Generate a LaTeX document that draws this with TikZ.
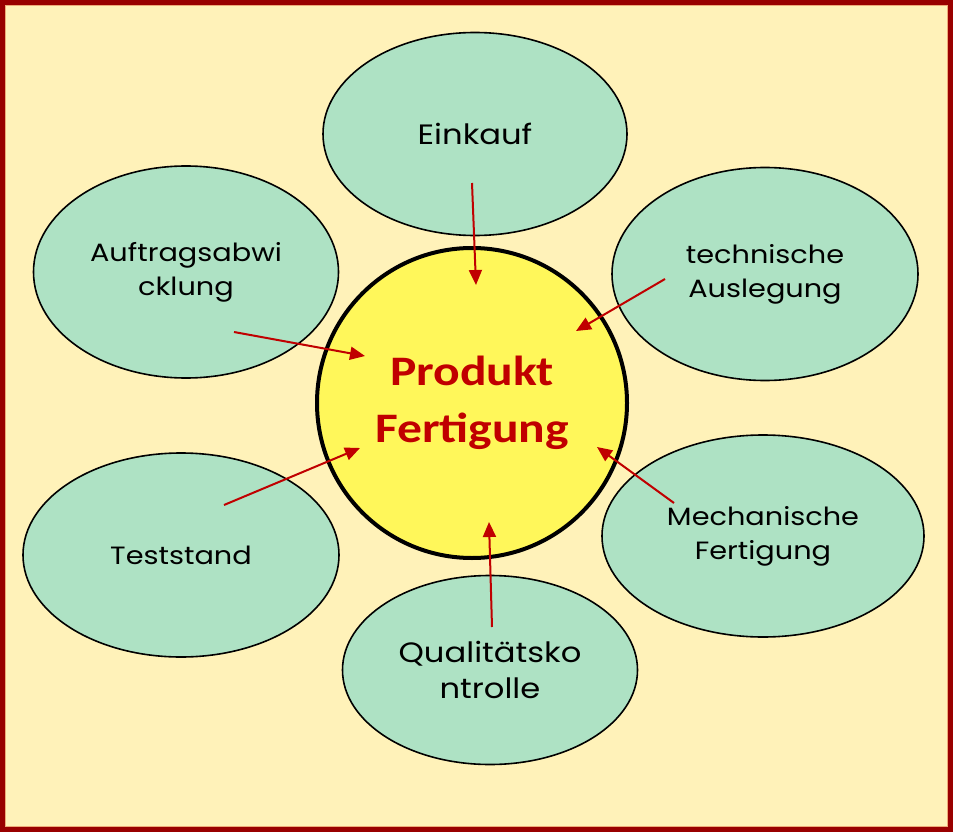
\documentclass[tikz,border=0pt]{standalone}
\usepackage{fontspec}
\setmainfont{Poppins}
\newfontfamily\petalfont[FakeStretch=1.15]{Poppins}
\newfontfamily\hubfont[FakeStretch=1.18]{Carlito}
\usetikzlibrary{shapes.geometric,arrows.meta}

\definecolor{framered}{RGB}{153,0,0}
\definecolor{frameedge}{RGB}{238,170,120}
\definecolor{cream}{RGB}{255,242,185}
\definecolor{leafgreen}{RGB}{174,226,196}
\definecolor{hubyellow}{RGB}{255,247,90}
\definecolor{arrowred}{RGB}{192,0,0}

\begin{document}
\begin{tikzpicture}[x=1pt,y=-1pt,
  bubble/.style={ellipse,draw=black,line width=1.6pt,fill=leafgreen,
    inner sep=0pt,align=center,font=\petalfont\fontsize{25}{34}\selectfont},
  bigtext/.style={font=\petalfont\fontsize{28}{36}\selectfont},
  hub/.style={circle,draw=black,line width=4pt,fill=hubyellow,inner sep=0pt,
    align=center,text=arrowred,font=\hubfont\bfseries\fontsize{42}{57}\selectfont},
  feed/.style={draw=arrowred,line width=2pt,-{Triangle[length=15pt,width=13pt]}}
]
\useasboundingbox (0,0) rectangle (953,832);

% frame
\draw[framered,line width=5pt,fill=cream] (2.5,2.5) rectangle (950.5,829.5);
\draw[frameedge,line width=0.8pt] (5.4,5.4) rectangle (947.6,826.6);

% centre
\node[hub,minimum size=310pt] (prod) at (472,403) {Produkt\\Fertigung};

% petals
\node[bubble,bigtext,minimum width=304pt,minimum height=203pt] (einkauf) at (475,134) {Einkauf};
\node[bubble,minimum width=306pt,minimum height=213pt] (technik) at (765,274) {technische\\Auslegung};
\node[bubble,minimum width=305pt,minimum height=212pt] (auftrag) at (186,272) {Auftragsabwi\\cklung};
\node[bubble,minimum width=316pt,minimum height=204pt] (test) at (181,555) {Teststand};
\node[bubble,minimum width=322pt,minimum height=202pt] (mech) at (763,536) {Mechanische\\Fertigung};
\node[bubble,bigtext,minimum width=295pt,minimum height=189pt] (quali) at (490,670) {Qualitätsko\\ntrolle};

% arrow ends
\coordinate (einkauf-out) at (472,183);
\coordinate (einkauf-in) at (476,285);
\coordinate (technik-out) at (665,279);
\coordinate (technik-in) at (576,331);
\coordinate (auftrag-out) at (234,332);
\coordinate (auftrag-in) at (365,356);
\coordinate (test-out) at (224,505);
\coordinate (test-in) at (360,448);
\coordinate (mech-out) at (674,503);
\coordinate (mech-in) at (597,447);
\coordinate (quali-out) at (492,627);
\coordinate (quali-in) at (489,522);

\foreach \n in {einkauf,technik,auftrag,test,mech,quali}
  \draw[feed] (\n-out) -- (\n-in);
\end{tikzpicture}
\end{document}
